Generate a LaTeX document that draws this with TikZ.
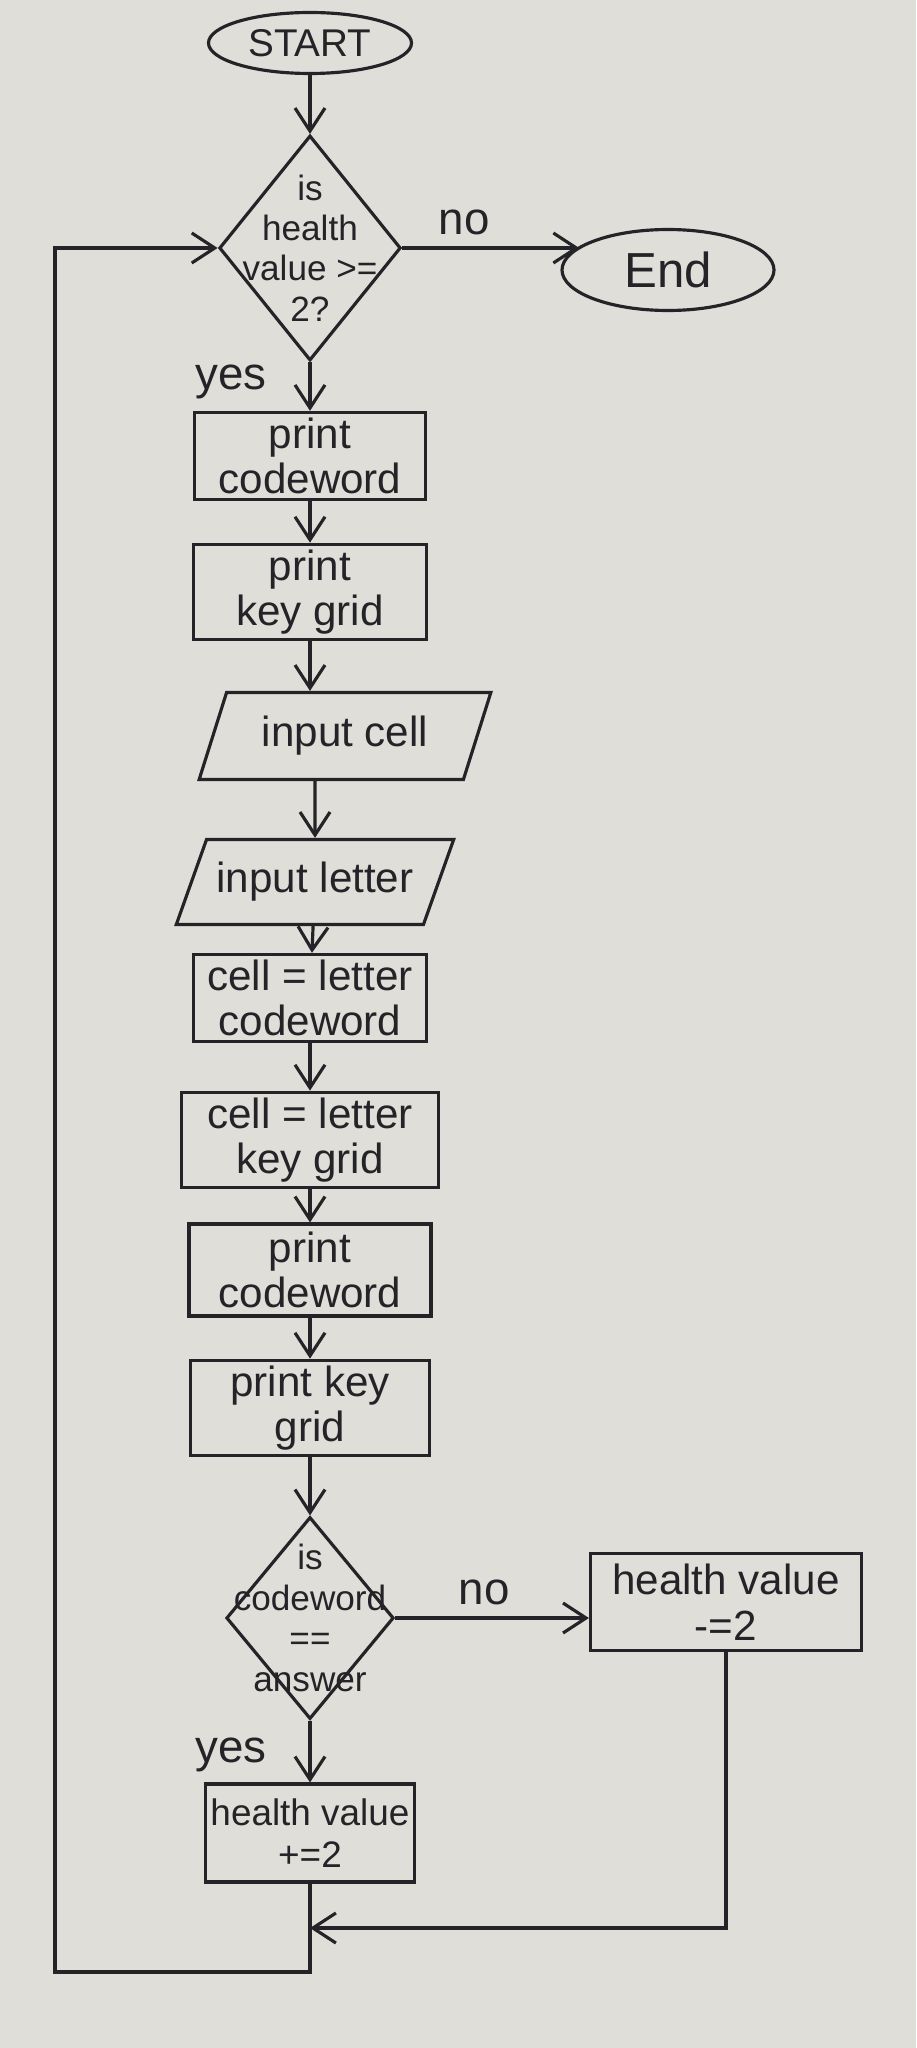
\documentclass[tikz,border=0pt]{standalone}
\usepackage{fontspec}
\setmainfont{Liberation Sans}
\usetikzlibrary{%
  arrows.meta,% Straight Barb
  shapes.geometric,% diamond, ellipse, trapezium
  positioning%
}
\definecolor{paper}{RGB}{224,222,216}
\definecolor{ink}{RGB}{36,36,40}

\begin{document}
\begin{tikzpicture}
    [   x=0.1mm, y=-0.1mm
    ,   >={Straight Barb[length=2.3mm,width=3mm]}
    ,   line width=0.9pt
    ,   color=ink
    ,   terminal/.style=
            {   ellipse
            ,   draw
            ,   inner sep=0pt
            ,   font=\fontsize{11}{13}\selectfont
            }
    ,   decision/.style=
            {   diamond
            ,   draw
            ,   align=center
            ,   inner sep=-2.5mm
            ,   font=\fontsize{10}{11.5}\selectfont
            }
    ,   process/.style=
            {   rectangle
            ,   draw
            ,   align=center
            ,   inner sep=1.5pt
            ,   font=\fontsize{12}{13}\selectfont
            }
    ,   io/.style=
            {   trapezium
            ,   trapezium stretches=true
            ,   draw
            ,   inner sep=1mm
            ,   font=\fontsize{12}{14}\selectfont
            }
    ,   choice/.style={font=\fontsize{13}{15}\selectfont}
    ]

    \fill[paper] (0,0) rectangle (916,2048);

    % main column
    \node[terminal, minimum width=20.3mm, minimum height=6.1mm] (start) at (310,43) {START};
    \node[decision, minimum width=17.8mm, minimum height=22.5mm] (hv) at (310,248) {is\\health\\value >=\\2?};
    \node[terminal, minimum width=21.2mm, minimum height=8.1mm, font=\fontsize{14}{16}\selectfont] (end) at (668,270) {End};
    \node[process, minimum width=23.1mm, minimum height=8.1mm] (pc1) at (310,456) {print\\codeword};
    \node[process, minimum width=23.3mm, minimum height=8.7mm] (pk1) at (310,592) {print\\key grid};
    \node[io, trapezium left angle=70, trapezium right angle=110, minimum width=29.2mm, minimum height=8.7mm] (incell) at (345,736) {input cell};
    \node[io, trapezium left angle=63, trapezium right angle=117, minimum width=27.2mm, minimum height=8.5mm] (inletter) at (315,882) {input letter};
    \node[process, minimum width=23.3mm, minimum height=8.1mm] (setcw) at (310,998) {cell = letter\\codeword};
    \node[process, minimum width=25.7mm, minimum height=8.5mm] (setkg) at (310,1140) {cell = letter\\key grid};
    \node[process, minimum width=24.2mm, minimum height=9.2mm] (pc2) at (310,1270) {print\\codeword};
    \node[process, minimum width=23.9mm, minimum height=9.2mm] (pk2) at (310,1408) {print key\\grid};
    \node[decision, minimum width=15.6mm, minimum height=20.2mm, inner sep=-3.3mm] (cw) at (310,1618) {is\\codeword\\==\\answer};
    \node[process, minimum width=20.5mm, minimum height=9.8mm, font=\fontsize{10.5}{12}\selectfont] (plus) at (310,1833) {health value\\+=2};
    \node[process, minimum width=27.1mm, minimum height=9.7mm] (minus) at (726,1602) {health value\\-=2};

    % loop back
    \coordinate (merge) at (310,1928);
    \coordinate (loopbot) at (310,1972);
    \coordinate (loopleft) at (55,1972);

    \draw[->] (start) -- (hv);
    \draw[->] (hv) -- (hv -| end.165) node[pos=0.35,above,choice]{no};
    \draw[->] (hv) -- (pc1) node[pos=0.4,left=3mm,choice]{yes};
    \draw[->] (pc1) -- (pk1);
    \draw[->] (pk1) -- (pk1 |- incell.north);
    \draw[->] (incell.south -| inletter) -- (inletter);
    \draw[->] (inletter) -- (setcw);
    \draw[->] (setcw) -- (setkg);
    \draw[->] (setkg) -- (pc2);
    \draw[->] (pc2) -- (pk2);
    \draw[->] (pk2) -- (cw);
    \draw[->] (cw) -- (cw -| minus.west) node[pos=0.46,above,choice]{no};
    \draw[->] (cw) -- (plus) node[pos=0.55,left=3mm,choice]{yes};
    \draw[->] (minus) |- (merge);
    \draw[->] (plus) -- (loopbot) -- (loopleft) |- (hv);
\end{tikzpicture}
\end{document}
